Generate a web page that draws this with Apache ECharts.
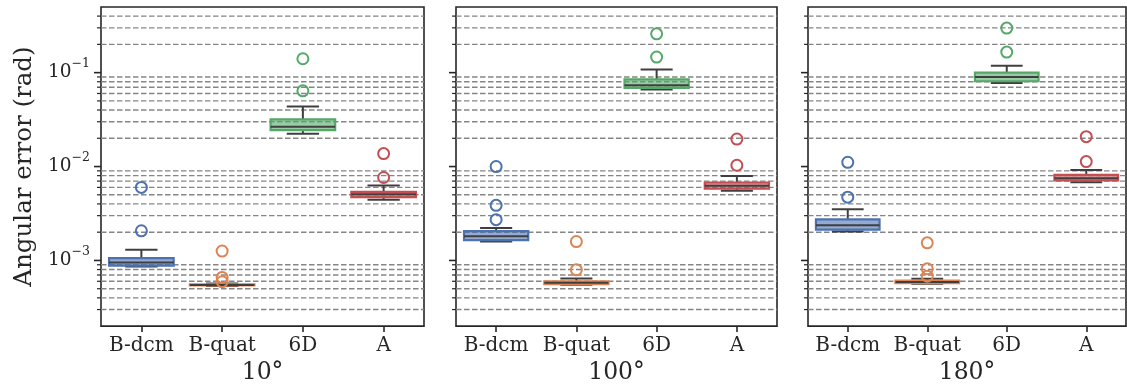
<!DOCTYPE html>
<html>
<head>
<meta charset="utf-8">
<script src="https://cdn.jsdelivr.net/npm/echarts@6/dist/echarts.min.js"></script>
<style>
html,body{margin:0;padding:0;background:#fff;}
#chart{width:1127px;height:390px;}
</style>
</head>
<body>
<div id="chart"></div>
<script>
// ---- data ----
const categories = ['B-dcm', 'B-quat', '6D', 'A'];
const panelTitles = ['10°', '100°', '180°'];
const colors = ['#4C72B0', '#DD8452', '#55A868', '#C44E52'];

// box stats per category: [min whisker, Q1, median, Q3, max whisker]
const box10 = [
  [8.6e-4, 8.8e-4, 9.5e-4, 1.06e-3, 1.30e-3],
  [5.35e-4, 5.42e-4, 5.48e-4, 5.56e-4, 5.68e-4],
  [0.0224, 0.0244, 0.0265, 0.0318, 0.0436],
  [4.43e-3, 4.72e-3, 5.08e-3, 5.38e-3, 6.29e-3]
];
const box100 = [
  [1.59e-3, 1.65e-3, 1.81e-3, 2.05e-3, 2.22e-3],
  [5.5e-4, 5.58e-4, 5.79e-4, 6.0e-4, 6.43e-4],
  [0.066, 0.0688, 0.0733, 0.0849, 0.108],
  [5.52e-3, 5.8e-3, 6.24e-3, 6.76e-3, 7.95e-3]
];
const box180 = [
  [2.03e-3, 2.13e-3, 2.37e-3, 2.74e-3, 3.52e-3],
  [5.65e-4, 5.72e-4, 5.89e-4, 6.1e-4, 6.38e-4],
  [0.0778, 0.081, 0.090, 0.100, 0.1186],
  [6.82e-3, 7.1e-3, 7.52e-3, 8.15e-3, 9.2e-3]
];
// outliers per category
const out10 = [[2.07e-3, 6.0e-3], [5.95e-4, 6.6e-4, 1.26e-3], [0.064, 0.1405], [7.64e-3, 0.01374]];
const out100 = [[2.72e-3, 3.86e-3, 1.0e-2], [7.95e-4, 1.59e-3], [0.1466, 0.259], [0.01032, 0.01963]];
const out180 = [[4.72e-3, 0.0111], [6.81e-4, 8.15e-4, 1.54e-3], [0.1656, 0.298], [0.0113, 0.0208]];

// axis ticks
const yMin = 2e-4, yMax = 0.5;
const majorTicks = [1e-3, 1e-2, 1e-1];
const minorTicks = [
  3e-4, 4e-4, 5e-4, 6e-4, 7e-4, 8e-4, 9e-4,
  2e-3, 3e-3, 4e-3, 5e-3, 6e-3, 7e-3, 8e-3, 9e-3,
  2e-2, 3e-2, 4e-2, 5e-2, 6e-2, 7e-2, 8e-2, 9e-2,
  0.2, 0.3, 0.4
];

const boxes = [box10, box100, box180];
const outs = [out10, out100, out180];

// ---- style ----
const FONT = 'DejaVu Serif';
const TXT = '#262626';
const DARK = '#3f3f3f';
const gridRects = [
  {left: 101, top: 7, width: 323, height: 322},
  {left: 456, top: 7, width: 321, height: 322},
  {left: 808, top: 7, width: 318, height: 322}
];

function hexA(hex, a) {
  const r = parseInt(hex.slice(1, 3), 16), g = parseInt(hex.slice(3, 5), 16), b = parseInt(hex.slice(5, 7), 16);
  return 'rgba(' + r + ',' + g + ',' + b + ',' + a + ')';
}

function renderBox(params, api) {
  const ci = api.value(0);
  const cs = params.coordSys;
  const band = cs.width / categories.length;
  const bw = band * 0.8;
  const cx = api.coord([ci, api.value(3)])[0];
  const yLo = api.coord([ci, api.value(1)])[1];
  const yQ1 = api.coord([ci, api.value(2)])[1];
  const yMd = api.coord([ci, api.value(3)])[1];
  const yQ3 = api.coord([ci, api.value(4)])[1];
  const yHi = api.coord([ci, api.value(5)])[1];
  const col = colors[ci];
  const ls = {stroke: DARK, lineWidth: 2};
  return {
    type: 'group',
    children: [
      {type: 'line', shape: {x1: cx, y1: yQ3, x2: cx, y2: yHi}, style: ls},
      {type: 'line', shape: {x1: cx, y1: yQ1, x2: cx, y2: yLo}, style: ls},
      {type: 'line', shape: {x1: cx - bw / 4, y1: yHi, x2: cx + bw / 4, y2: yHi}, style: ls},
      {type: 'line', shape: {x1: cx - bw / 4, y1: yLo, x2: cx + bw / 4, y2: yLo}, style: ls},
      {type: 'rect', shape: {x: cx - bw / 2, y: yQ3, width: bw, height: Math.max(yQ1 - yQ3, 0.5)},
        style: {fill: hexA(col, 0.6), stroke: col, lineWidth: 2.2}},
      {type: 'line', shape: {x1: cx - bw / 2, y1: yMd, x2: cx + bw / 2, y2: yMd}, style: ls}
    ]
  };
}

function renderMinor(params, api) {
  const cs = params.coordSys;
  const y = api.coord([0, api.value(1)])[1];
  return {
    type: 'group',
    children: [
      {type: 'line', shape: {x1: cs.x, y1: y, x2: cs.x + cs.width, y2: y},
        style: {stroke: '#858585', lineWidth: 1.4, lineDash: [5.5, 2.5]}},
      {type: 'line', shape: {x1: cs.x - 4, y1: y, x2: cs.x, y2: y},
        style: {stroke: TXT, lineWidth: 1.2}}
    ]
  };
}
function renderMajor(params, api) {
  const cs = params.coordSys;
  const y = api.coord([0, api.value(1)])[1];
  return {type: 'line', shape: {x1: cs.x - 7, y1: y, x2: cs.x, y2: y},
    style: {stroke: TXT, lineWidth: 1.6}};
}

function fmtLog(v) {
  const e = Math.log10(v);
  const r = Math.round(e);
  if (Math.abs(e - r) > 1e-6) return '';
  return '{b|10}{s|\u2212' + (-r) + '}';
}

const grid = [], xAxis = [], yAxis = [], series = [];
for (let i = 0; i < 3; i++) {
  grid.push(Object.assign({show: true, borderColor: TXT, borderWidth: 1.6, backgroundColor: 'rgba(0,0,0,0)'}, gridRects[i]));
  xAxis.push({
    type: 'category', gridIndex: i, data: categories, boundaryGap: true,
    axisLine: {show: false},
    axisTick: {show: true, alignWithLabel: true, length: 6, lineStyle: {color: TXT, width: 1.6}},
    axisLabel: {interval: 0, fontFamily: FONT, fontSize: 20, color: TXT, margin: 10},
    splitLine: {show: false},
    name: panelTitles[i], nameLocation: 'middle', nameGap: 33,
    nameTextStyle: {fontFamily: FONT, fontSize: 23.5, color: TXT}
  });
  yAxis.push({
    type: 'log', logBase: 10, gridIndex: i, min: yMin, max: yMax,
    axisLine: {show: false}, axisTick: {show: false}, splitLine: {show: false}, minorTick: {show: false},
    axisLabel: {show: i === 0, formatter: fmtLog, margin: 11, color: TXT,
      rich: {
        b: {fontFamily: FONT, fontSize: 18.5, color: TXT, lineHeight: 30, verticalAlign: 'middle'},
        s: {fontFamily: FONT, fontSize: 12.5, color: TXT, lineHeight: 30, verticalAlign: 'top'}
      }},
    name: i === 0 ? 'Angular error (rad)' : '', nameLocation: 'middle', nameGap: 64,
    nameTextStyle: {fontFamily: FONT, fontSize: 24.5, color: TXT}
  });
  series.push({
    type: 'custom', xAxisIndex: i, yAxisIndex: i, z: 1, silent: true, clip: false,
    renderItem: renderMinor, encode: {x: 0, y: 1},
    data: minorTicks.map(v => [0, v])
  });
  series.push({
    type: 'custom', xAxisIndex: i, yAxisIndex: i, z: 1, silent: true, clip: false,
    renderItem: renderMajor, encode: {x: 0, y: 1},
    data: majorTicks.map(v => [0, v])
  });
  series.push({
    type: 'custom', xAxisIndex: i, yAxisIndex: i, z: 3, silent: true,
    renderItem: renderBox, encode: {x: 0, y: [1, 2, 3, 4, 5]},
    data: boxes[i].map((b, ci) => [ci].concat(b))
  });
  const pts = [];
  outs[i].forEach((arr, ci) => arr.forEach(v => pts.push({
    value: [ci, v],
    itemStyle: {color: 'rgba(0,0,0,0)', borderColor: colors[ci], borderWidth: 2, opacity: 1}
  })));
  series.push({
    type: 'scatter', xAxisIndex: i, yAxisIndex: i, z: 4, silent: true,
    symbol: 'circle', symbolSize: 11, itemStyle: {opacity: 1}, data: pts
  });
}

const chart = echarts.init(document.getElementById('chart'), null, {renderer: 'canvas'});
chart.setOption({animation: false, backgroundColor: '#fff', grid, xAxis, yAxis, series});
</script>
</body>
</html>
